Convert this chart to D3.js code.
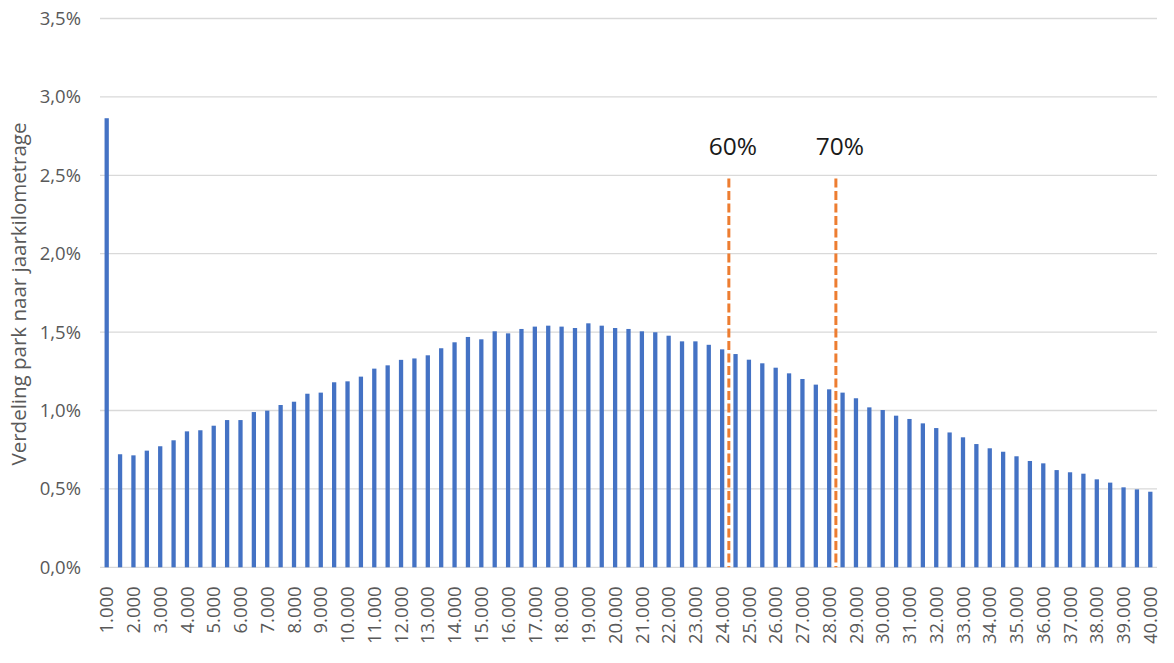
<!DOCTYPE html>
<html>
<head>
<meta charset="utf-8">
<script src="https://cdn.jsdelivr.net/npm/d3@7"></script>
<style>
  html, body { margin: 0; padding: 0; background: #fff; }
  svg { display: block; font-family: "Open Sans", "Liberation Sans", sans-serif; }
</style>
</head>
<body>
<svg id="chart" width="1174" height="663"></svg>
<script>
// Jaarkilometrage classes (km), step 500 from 1.000 to 40.000
const kilometers = d3.range(1000, 40001, 500);

// Share of the fleet per class (%)
const shares = [
  2.864, 0.721, 0.714, 0.744, 0.772, 0.810, 0.867, 0.874, 0.903, 0.939,
  0.939, 0.990, 0.999, 1.035, 1.056, 1.107, 1.114, 1.180, 1.186, 1.216,
  1.267, 1.288, 1.323, 1.332, 1.352, 1.397, 1.435, 1.469, 1.454, 1.505,
  1.492, 1.520, 1.535, 1.541, 1.535, 1.526, 1.556, 1.541, 1.526, 1.520,
  1.505, 1.499, 1.477, 1.441, 1.441, 1.419, 1.390, 1.360, 1.324, 1.301,
  1.273, 1.237, 1.201, 1.165, 1.135, 1.114, 1.078, 1.020, 1.003, 0.967,
  0.946, 0.918, 0.888, 0.860, 0.829, 0.786, 0.759, 0.737, 0.708, 0.678,
  0.663, 0.620, 0.606, 0.597, 0.561, 0.540, 0.510, 0.497, 0.482
];

// Y-axis ticks (%)
const yTicks = [0, 0.5, 1.0, 1.5, 2.0, 2.5, 3.0, 3.5];

// Cumulative-share markers: label, position (km), line height (%)
const markerLabels = ["60%", "70%"];
const markerKm = [24250, 28250];
const markerTop = [2.48, 2.48];

const yTitle = "Verdeling park naar jaarkilometrage";

const nl = d3.formatLocale({ decimal: ",", thousands: ".", grouping: [3], currency: ["€", ""] });
const fmtKm = nl.format(",d");
const fmtPct = d => nl.format(".1f")(d) + "%";

const svg = d3.select("#chart");
const plot = { left: 100, right: 1157, top: 18.5, bottom: 567.3 };

const x = d3.scaleBand()
  .domain(kilometers)
  .range([plot.left, plot.right])
  .paddingInner(0.68)
  .paddingOuter(0.34);

const y = d3.scaleLinear().domain([0, 3.5]).range([plot.bottom, plot.top]);

// Continuous km position aligned with the band centres
const xKm = d3.scaleLinear()
  .domain([kilometers[0], kilometers[kilometers.length - 1]])
  .range([x(kilometers[0]) + x.bandwidth() / 2,
          x(kilometers[kilometers.length - 1]) + x.bandwidth() / 2]);

// Gridlines
svg.append("g")
  .selectAll("line")
  .data(yTicks)
  .join("line")
  .attr("x1", plot.left)
  .attr("x2", plot.right)
  .attr("y1", d => y(d))
  .attr("y2", d => y(d))
  .attr("stroke", "#d9d9d9")
  .attr("stroke-width", 1.3);

// Y-axis labels
const yAxis = svg.append("g")
  .attr("transform", `translate(${plot.left},0)`)
  .call(d3.axisLeft(y).tickValues(yTicks).tickFormat(fmtPct).tickSize(0).tickPadding(19));
yAxis.select(".domain").remove();
yAxis.selectAll("text")
  .attr("fill", "#595959")
  .style("font-size", "18.5px")
  .style("font-family", "'Open Sans', sans-serif");

// Bars
svg.append("g")
  .selectAll("rect")
  .data(kilometers)
  .join("rect")
  .attr("x", d => x(d))
  .attr("width", x.bandwidth())
  .attr("y", (d, i) => y(shares[i]))
  .attr("height", (d, i) => y(0) - y(shares[i]))
  .attr("fill", "#4472c4");

// X-axis labels (every whole thousand)
const xAxis = svg.append("g")
  .attr("transform", `translate(0,${plot.bottom})`)
  .call(d3.axisBottom(x)
    .tickValues(kilometers.filter(k => k % 1000 === 0))
    .tickFormat(fmtKm)
    .tickSize(0));
xAxis.select(".domain").remove();
xAxis.selectAll("text")
  .attr("fill", "#595959")
  .style("font-size", "18.5px")
  .style("font-family", "'Open Sans', sans-serif")
  .attr("text-anchor", "end")
  .attr("transform", "rotate(-90)")
  .attr("x", -19)
  .attr("y", 0)
  .attr("dy", "0.36em");

// Marker lines
const markers = svg.append("g");
markers.selectAll("line")
  .data(markerKm)
  .join("line")
  .attr("x1", d => xKm(d))
  .attr("x2", d => xKm(d))
  .attr("y1", (d, i) => y(markerTop[i]))
  .attr("y2", y(0))
  .attr("stroke", "#ed7d31")
  .attr("stroke-width", 3)
  .attr("stroke-dasharray", "9,3.5");

markers.selectAll("text")
  .data(markerKm)
  .join("text")
  .attr("x", d => xKm(d) + 4)
  .attr("y", 155)
  .attr("text-anchor", "middle")
  .attr("fill", "#1a1a1a")
  .style("font-size", "24.5px")
  .text((d, i) => markerLabels[i]);

// Y-axis title
svg.append("text")
  .attr("transform", `translate(26,294) rotate(-90)`)
  .attr("text-anchor", "middle")
  .attr("fill", "#595959")
  .style("font-size", "20.5px")
  .text(yTitle);
</script>
</body>
</html>
